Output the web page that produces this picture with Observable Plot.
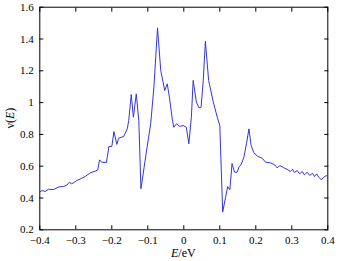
<!DOCTYPE html>
<html>
<head>
<meta charset="utf-8">
<script src="https://cdn.jsdelivr.net/npm/d3@7"></script>
<script src="https://cdn.jsdelivr.net/npm/@observablehq/plot@0.6"></script>
<style>
  html, body { margin: 0; padding: 0; background: #fff; }
  #chart svg { display: block; }
  #chart svg, #chart svg text { font-family: "Liberation Serif", "Times New Roman", serif !important; }
</style>
</head>
<body>
<div id="chart"></div>
<script>
const energy = [-0.400,-0.394,-0.385,-0.376,-0.362,-0.347,-0.334,-0.325,-0.318,-0.311,-0.297,-0.283,-0.274,-0.260,-0.246,-0.239,-0.234,-0.228,-0.215,-0.208,-0.200,-0.194,-0.186,-0.181,-0.167,-0.157,-0.153,-0.146,-0.140,-0.132,-0.125,-0.119,-0.102,-0.092,-0.083,-0.073,-0.064,-0.053,-0.046,-0.040,-0.032,-0.028,-0.020,-0.011,-0.002,0.007,0.014,0.021,0.026,0.035,0.042,0.048,0.054,0.060,0.069,0.082,0.093,0.100,0.108,0.116,0.122,0.128,0.134,0.141,0.148,0.154,0.159,0.167,0.174,0.181,0.187,0.194,0.204,0.218,0.227,0.241,0.252,0.259,0.267,0.278,0.289,0.296,0.302,0.307,0.315,0.322,0.329,0.335,0.343,0.350,0.357,0.363,0.369,0.375,0.382,0.389,0.396,0.400];
const dos = [0.438,0.447,0.441,0.455,0.453,0.470,0.472,0.481,0.499,0.489,0.510,0.525,0.535,0.558,0.569,0.577,0.640,0.625,0.623,0.724,0.724,0.818,0.737,0.776,0.787,0.835,0.887,1.051,0.908,1.055,0.887,0.458,0.720,0.867,1.097,1.470,1.202,1.076,1.118,1.034,0.898,0.845,0.867,0.850,0.856,0.845,0.741,0.908,1.139,1.003,0.967,0.971,1.139,1.386,1.139,1.003,0.908,0.856,0.311,0.405,0.472,0.452,0.617,0.562,0.562,0.598,0.609,0.657,0.741,0.835,0.730,0.688,0.663,0.650,0.625,0.621,0.609,0.590,0.604,0.590,0.577,0.567,0.581,0.560,0.573,0.552,0.567,0.546,0.562,0.541,0.556,0.535,0.552,0.531,0.514,0.531,0.541,0.535];
const xTicks = [-0.4,-0.3,-0.2,-0.1,0,0.1,0.2,0.3,0.4];
const yTicks = [0.2,0.4,0.6,0.8,1,1.2,1.4,1.6];

const data = energy.map((e, i) => ({e, v: dos[i]}));
const fmt = d => String(+d.toFixed(1)).replace("-", "\u2212");

const W = 339, H = 261;
const mL = 39.3, mR = 11.7, mT = 6.7, mB = 31.7;

const plot = Plot.plot({
  width: W, height: H,
  marginLeft: mL, marginRight: mR, marginTop: mT, marginBottom: mB,
  style: {fontSize: "11px", color: "#000", background: "#fff"},
  x: {domain: [-0.4, 0.4]},
  y: {domain: [0.2, 1.6]},
  marks: [
    Plot.frame({stroke: "#000", strokeWidth: 1}),
    Plot.axisX({anchor: "bottom", ticks: xTicks, tickSize: -4, tickPadding: 10, tickFormat: fmt, label: null}),
    Plot.axisX({anchor: "top", ticks: xTicks, tickSize: -4, tickFormat: () => "", label: null}),
    Plot.axisY({anchor: "left", ticks: yTicks, tickSize: -4, tickPadding: 10, tickFormat: fmt, label: null}),
    Plot.axisY({anchor: "right", ticks: yTicks, tickSize: -4, tickFormat: () => "", label: null}),
    Plot.line(data, {x: "e", y: "v", stroke: "#3535e0", strokeWidth: 1})
  ]
});

const svg = d3.select(plot);
const cx = mL + (W - mL - mR) / 2;
const cy = mT + (H - mT - mB) / 2;
const xl = svg.append("text")
  .attr("x", cx).attr("y", 257)
  .attr("text-anchor", "middle")
  .attr("font-size", 12).attr("fill", "#000");
xl.append("tspan").attr("font-style", "italic").text("E");
xl.append("tspan").text("/eV");

const yl = svg.append("text")
  .attr("transform", `translate(14,${cy}) rotate(-90)`)
  .attr("text-anchor", "middle")
  .attr("font-size", 12).attr("fill", "#000");
yl.append("tspan").text("\u03bd(");
yl.append("tspan").attr("font-style", "italic").text("E");
yl.append("tspan").text(")");

document.getElementById("chart").appendChild(plot);
</script>
</body>
</html>
